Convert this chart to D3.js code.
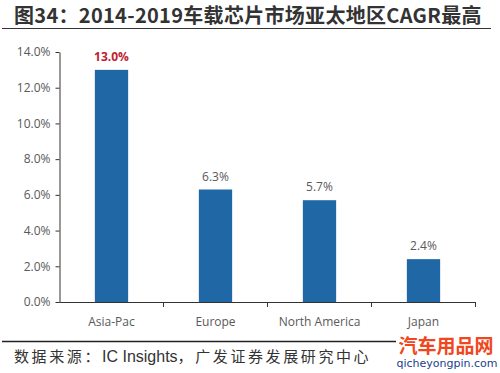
<!DOCTYPE html>
<html><head><meta charset="utf-8">
<script src="https://cdn.jsdelivr.net/npm/d3@7"></script>
<style>body{margin:0;background:#fff}svg{display:block}</style>
</head><body>
<svg id="c" width="500" height="373"></svg>
<script>
const categories = ["Asia-Pac", "Europe", "North America", "Japan"];
const values = [13.0, 6.3, 5.7, 2.4];
const yTicks = [0, 2, 4, 6, 8, 10, 12, 14];
const title = "图34：2014-2019车载芯片市场亚太地区CAGR最高";
const source = "数据来源：IC Insights，广发证券发展研究中心";

(function () {
const svg = d3.select("#c");
const cjk = "'Noto Sans CJK SC', sans-serif";
const lat = "'Open Sans', 'Noto Sans', sans-serif";

svg.append("text").attr("x", 14).attr("y", 23).text(title)
  .attr("font-family", cjk).attr("font-weight", "bold").attr("font-size", 20)
  .attr("letter-spacing", 0.3).attr("fill", "#333");
svg.append("line").attr("x1", 2).attr("x2", 491).attr("y1", 28.5).attr("y2", 28.5)
  .attr("stroke", "#333").attr("stroke-width", 1);

const pl = 59.5, pr = 475.5, pt = 52, pb = 302;
const x = d3.scaleBand().domain(categories).range([pl, pr]).paddingInner(0.68).paddingOuter(0.34);
const y = d3.scaleLinear().domain([0, 14]).range([pb, pt]);

const yAxis = svg.append("g").attr("transform", `translate(${pl},0)`)
  .call(d3.axisLeft(y).tickValues(yTicks).tickFormat(d => d.toFixed(1) + "%").tickSize(4).tickSizeOuter(0));
yAxis.select(".domain").attr("stroke", "#333");
yAxis.selectAll(".tick line").attr("stroke", "#333");
yAxis.selectAll(".tick text").attr("font-family", lat).attr("font-size", 12).attr("fill", "#595959").attr("x", -9);

svg.selectAll("rect.bar").data(values).join("rect").attr("class", "bar")
  .attr("x", (d, i) => x(categories[i])).attr("width", x.bandwidth())
  .attr("y", d => y(d)).attr("height", d => pb - y(d)).attr("fill", "#1f67a5");

svg.selectAll("text.val").data(values).join("text").attr("class", "val")
  .attr("x", (d, i) => x(categories[i]) + x.bandwidth() / 2).attr("y", d => y(d) - 9)
  .attr("text-anchor", "middle").attr("font-family", lat).attr("font-size", 12)
  .attr("font-weight", (d, i) => i === 0 ? "bold" : "normal")
  .attr("fill", (d, i) => i === 0 ? "#c0202f" : "#595959")
  .text(d => d.toFixed(1) + "%");

const xg = svg.append("g").attr("transform", `translate(0,${pb})`);
xg.append("line").attr("x1", pl).attr("x2", pr).attr("y1", 0.5).attr("y2", 0.5).attr("stroke", "#333");
const step = x.step();
const bounds = categories.map(c => x(c) + x.bandwidth() / 2 + step / 2);
xg.selectAll("line.t").data(bounds).join("line").attr("class", "t")
  .attr("x1", d => d).attr("x2", d => d).attr("y1", 0).attr("y2", 5).attr("stroke", "#333");
xg.selectAll("text").data(categories).join("text")
  .attr("x", d => x(d) + x.bandwidth() / 2).attr("y", 24).attr("text-anchor", "middle")
  .attr("font-family", lat).attr("font-size", 12).attr("fill", "#595959").text(d => d);

svg.append("line").attr("x1", 2).attr("x2", 396).attr("y1", 341.5).attr("y2", 341.5)
  .attr("stroke", "#222").attr("stroke-width", 1.5);
const st = svg.append("text").attr("x", 14).attr("y", 362).attr("fill", "#333");
const parts = source.match(/[A-Za-z ]+|[^A-Za-z ]+/g);
parts.forEach(p => {
  const latin = /^[A-Za-z ]+$/.test(p);
  st.append("tspan").text(p)
    .attr("font-family", latin ? "'Liberation Sans', Arial, sans-serif" : cjk)
    .attr("font-size", latin ? 16 : 15)
    .attr("letter-spacing", latin ? 0 : 2.6);
});

svg.append("text").attr("x", 446).attr("y", 353).attr("text-anchor", "middle").text("汽车用品网")
  .attr("font-family", cjk).attr("font-weight", "bold").attr("font-size", 19).attr("fill", "#f0471e");
svg.append("text").attr("x", 447).attr("y", 367).attr("text-anchor", "middle").text("qicheyongpin.com")
  .attr("font-family", "'DejaVu Sans', sans-serif").attr("font-size", 11).attr("fill", "#1b3f8c");
})();
</script>
</body></html>
